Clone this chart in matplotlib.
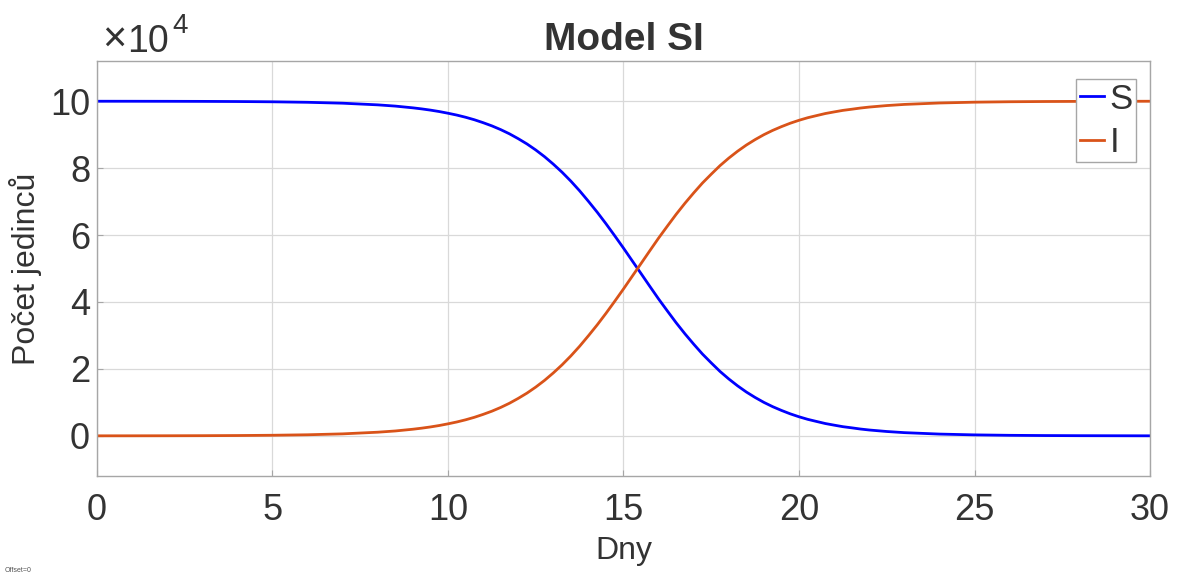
import matplotlib
matplotlib.use("Agg")
import matplotlib.pyplot as plt
from matplotlib.ticker import FuncFormatter

plt.rcParams['font.family'] = ['Liberation Sans', 'DejaVu Sans']

# days and population counts
days = [0, 1, 2, 3, 4, 5, 6, 7, 8, 8.5, 9, 9.25, 9.5, 9.75, 10, 10.25, 10.5,
        10.75, 11, 11.25, 11.5, 11.75, 12, 12.25, 12.5, 12.75, 13, 13.25, 13.5,
        13.75, 14, 14.25, 14.5, 14.75, 15, 15.25, 15.5, 15.75, 16, 16.25, 16.5,
        16.75, 17, 17.25, 17.5, 17.75, 18, 18.25, 18.5, 18.75, 19, 19.25, 19.5,
        19.75, 20, 20.25, 20.5, 20.75, 21, 21.25, 21.5, 21.75, 22, 22.5, 23,
        24, 25, 26, 27, 28, 29, 30]
infected = [8, 15, 28, 52, 96, 176, 324, 594, 1090, 1460, 1980, 2295, 2660,
            3087, 3590, 4142, 4790, 5537, 6410, 7369, 8480, 9739, 11190, 12770,
            14570, 16570, 18800, 21220, 23880, 26770, 29900, 33150, 36600,
            40210, 43900, 47710, 51500, 55320, 59100, 62680, 66200, 69500,
            72600, 75560, 78200, 80750, 83000, 85050, 86900, 88530, 90000,
            91280, 92400, 93420, 94300, 95070, 95700, 96320, 96800, 97260,
            97600, 97960, 98250, 98700, 99040, 99470, 99710, 99840, 99910,
            99950, 99970, 99990]
susceptible = [100000 - v for v in infected]

fig = plt.figure(figsize=(11.84, 5.76), dpi=100)
ax = fig.add_axes([0.0819, 0.1736, 0.8894, 0.7204])

ax.plot(days, susceptible, color='#0000ff', lw=2, label='S')
ax.plot(days, infected, color='#D95319', lw=2, label='I')

ax.set_xlim(0, 30)
ax.set_ylim(-12000, 112000)
ax.set_xticks(range(0, 31, 5))
ax.set_yticks(range(0, 100001, 20000))
ax.yaxis.set_major_formatter(FuncFormatter(lambda v, p: '%d' % round(v / 1e4)))

ax.grid(True, color='#d9d9d9', lw=0.9)
ax.set_axisbelow(True)
for s in ax.spines.values():
    s.set_color('#a6a6a6')
    s.set_linewidth(1)
ax.tick_params(direction='in', length=4, color='#a6a6a6', labelsize=26,
               labelcolor='#333333')
ax.tick_params(axis='x', pad=12)
ax.tick_params(axis='y', pad=5)

ax.set_xlabel('Dny', fontsize=23, color='#333333', labelpad=6)
ax.set_ylabel('Počet jedinců', fontsize=23, color='#333333')
ax.yaxis.set_label_coords(-0.052, 0.5)
ax.set_title('Model SI', fontsize=28, fontweight='bold', color='#333333', pad=8)

# exponent label
fig.text(0.086, 0.9097, '×', fontsize=30, color='#333333', va='baseline')
fig.text(0.107, 0.9097, '10', fontsize=27, color='#333333', va='baseline')
fig.text(0.146, 0.9427, '4', fontsize=20, color='#333333', va='baseline')
fig.text(0.004, 0.007, 'Offset=0', fontsize=5, color='#555555')

leg = ax.legend(loc='upper right', bbox_to_anchor=(0.9867, 0.9566), fontsize=25,
                handlelength=0.7, handletextpad=0.15, borderpad=0.1,
                labelspacing=0.3, fancybox=False, framealpha=1,
                edgecolor='#a6a6a6', borderaxespad=0)
for t in leg.get_texts():
    t.set_color('#333333')

fig.savefig('out.png', dpi=100)
